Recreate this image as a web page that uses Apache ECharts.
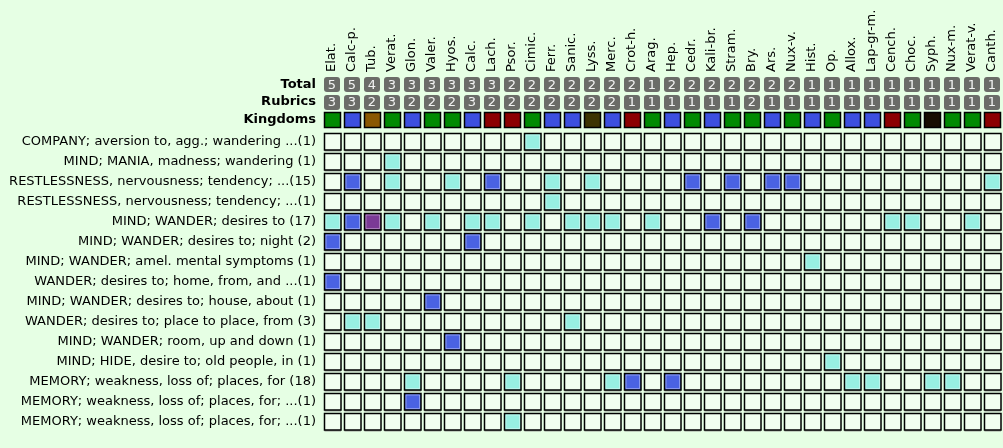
<!DOCTYPE html>
<html>
<head>
<meta charset="utf-8">
<script src="https://cdn.jsdelivr.net/npm/echarts@6/dist/echarts.min.js"></script>
<style>
html, body { margin: 0; padding: 0; background: #e6ffe4; }
#chart { width: 1003px; height: 448px; }
</style>
</head>
<body>
<div id="chart"></div>
<script>
var remedies = ['Elat.', 'Calc-p.', 'Tub.', 'Verat.', 'Glon.', 'Valer.', 'Hyos.', 'Calc.', 'Lach.', 'Psor.',
  'Cimic.', 'Ferr.', 'Sanic.', 'Lyss.', 'Merc.', 'Crot-h.', 'Arag.', 'Hep.', 'Cedr.', 'Kali-br.',
  'Stram.', 'Bry.', 'Ars.', 'Nux-v.', 'Hist.', 'Op.', 'Allox.', 'Lap-gr-m.', 'Cench.', 'Choc.',
  'Syph.', 'Nux-m.', 'Verat-v.', 'Canth.'];
var totals = [5, 5, 4, 3, 3, 3, 3, 3, 3, 2, 2, 2, 2, 2, 2, 2, 1, 2, 2, 2, 2, 2, 2, 2, 1, 1, 1, 1, 1, 1, 1, 1, 1, 1];
var rubricCounts = [3, 3, 2, 3, 2, 2, 2, 3, 2, 2, 2, 2, 2, 2, 2, 1, 1, 1, 1, 1, 1, 2, 1, 1, 1, 1, 1, 1, 1, 1, 1, 1, 1, 1];
var kingdoms = ['plant', 'mineral', 'nosode', 'plant', 'mineral', 'plant', 'plant', 'mineral', 'animal', 'animal',
  'plant', 'mineral', 'mineral', 'nosode2', 'mineral', 'animal', 'plant', 'mineral', 'plant', 'mineral',
  'plant', 'plant', 'mineral', 'plant', 'mineral', 'plant', 'mineral', 'mineral', 'animal', 'plant',
  'nosode3', 'plant', 'plant', 'animal'];
var kingdomColors = {
  plant: '#008a00', mineral: '#3d4fde', animal: '#8c0000',
  nosode: '#8a5800', nosode2: '#3d3300', nosode3: '#170d00'
};
var headerRows = ['Total', 'Rubrics', 'Kingdoms'];
var rubrics = [
  'COMPANY; aversion to, agg.; wandering ...(1)',
  'MIND; MANIA, madness; wandering (1)',
  'RESTLESSNESS, nervousness; tendency; ...(15)',
  'RESTLESSNESS, nervousness; tendency; ...(1)',
  'MIND; WANDER; desires to (17)',
  'MIND; WANDER; desires to; night (2)',
  'MIND; WANDER; amel. mental symptoms (1)',
  'WANDER; desires to; home, from, and ...(1)',
  'MIND; WANDER; desires to; house, about (1)',
  'WANDER; desires to; place to place, from (3)',
  'MIND; WANDER; room, up and down (1)',
  'MIND; HIDE, desire to; old people, in (1)',
  'MEMORY; weakness, loss of; places, for (18)',
  'MEMORY; weakness, loss of; places, for; ...(1)',
  'MEMORY; weakness, loss of; places, for; ...(1)'
];
// grade of each remedy in each rubric, 0 = absent
var grades = [
  [0,0,0,0,0,0,0,0,0,0, 1,0,0,0,0,0,0,0,0,0, 0,0,0,0,0,0,0,0,0,0, 0,0,0,0],
  [0,0,0,1,0,0,0,0,0,0, 0,0,0,0,0,0,0,0,0,0, 0,0,0,0,0,0,0,0,0,0, 0,0,0,0],
  [0,2,0,1,0,0,1,0,2,0, 0,1,0,1,0,0,0,0,2,0, 2,0,2,2,0,0,0,0,0,0, 0,0,0,1],
  [0,0,0,0,0,0,0,0,0,0, 0,1,0,0,0,0,0,0,0,0, 0,0,0,0,0,0,0,0,0,0, 0,0,0,0],
  [1,2,3,1,0,1,0,1,1,0, 1,0,1,1,1,0,1,0,0,2, 0,2,0,0,0,0,0,0,1,1, 0,0,1,0],
  [2,0,0,0,0,0,0,2,0,0, 0,0,0,0,0,0,0,0,0,0, 0,0,0,0,0,0,0,0,0,0, 0,0,0,0],
  [0,0,0,0,0,0,0,0,0,0, 0,0,0,0,0,0,0,0,0,0, 0,0,0,0,1,0,0,0,0,0, 0,0,0,0],
  [2,0,0,0,0,0,0,0,0,0, 0,0,0,0,0,0,0,0,0,0, 0,0,0,0,0,0,0,0,0,0, 0,0,0,0],
  [0,0,0,0,0,2,0,0,0,0, 0,0,0,0,0,0,0,0,0,0, 0,0,0,0,0,0,0,0,0,0, 0,0,0,0],
  [0,1,1,0,0,0,0,0,0,0, 0,0,1,0,0,0,0,0,0,0, 0,0,0,0,0,0,0,0,0,0, 0,0,0,0],
  [0,0,0,0,0,0,2,0,0,0, 0,0,0,0,0,0,0,0,0,0, 0,0,0,0,0,0,0,0,0,0, 0,0,0,0],
  [0,0,0,0,0,0,0,0,0,0, 0,0,0,0,0,0,0,0,0,0, 0,0,0,0,0,1,0,0,0,0, 0,0,0,0],
  [0,0,0,0,1,0,0,0,0,1, 0,0,0,0,1,2,0,2,0,0, 0,0,0,0,0,0,1,1,0,0, 1,1,0,0],
  [0,0,0,0,2,0,0,0,0,0, 0,0,0,0,0,0,0,0,0,0, 0,0,0,0,0,0,0,0,0,0, 0,0,0,0],
  [0,0,0,0,0,0,0,0,0,1, 0,0,0,0,0,0,0,0,0,0, 0,0,0,0,0,0,0,0,0,0, 0,0,0,0]
];
var gradeColors = ['#f2fff0', '#97efe2', '#4a62e2', '#7b3a96'];

var FONT = 'DejaVu Sans';

var matrixData = [];
grades.forEach(function (row, r) {
  row.forEach(function (g, c) { matrixData.push([c, r, g]); });
});
var headerData = [];
remedies.forEach(function (name, c) {
  headerData.push([c, 0], [c, 1], [c, 2]);
});

function renderCell(params, api) {
  var p = api.coord([api.value(0), api.value(1)]);
  var g = api.value(2);
  var s = 16.5;
  var x = Math.round(p[0] - s / 2) + 0.5, y = Math.round(p[1] - s / 2) + 0.5;
  var kids = [
    { type: 'rect', shape: { x: x, y: y + 1.5, width: s, height: s }, style: { fill: '#9a9e98' } },
    { type: 'rect', shape: { x: x, y: y, width: s, height: s },
      style: { fill: gradeColors[g], stroke: '#000', lineWidth: 1.5 } }
  ];
  if (g > 0) {
    kids.push({ type: 'rect', shape: { x: x + 1.5, y: y + 1.5, width: s - 3, height: s - 3 },
      style: { fill: 'none', stroke: 'rgba(255,255,255,0.35)', lineWidth: 1 } });
  }
  return { type: 'group', children: kids };
}

function renderHeader(params, api) {
  var c = api.value(0), row = api.value(1);
  var p = api.coord([c, row]);
  var w = 16, h = 15;
  var x = Math.round(p[0] - w / 2), y = Math.round(p[1] - h / 2);
  if (row === 2) {
    return { type: 'rect', shape: { x: x + 0.5, y: y + 0.5, width: w, height: h },
      style: { fill: kingdomColors[kingdoms[c]], stroke: '#000', lineWidth: 1.5 } };
  }
  var val = row === 0 ? totals[c] : rubricCounts[c];
  return { type: 'group', children: [
    { type: 'rect', shape: { x: x, y: y, width: w, height: h, r: 3 }, style: { fill: '#6b6c68' } },
    { type: 'text', style: { text: String(val), x: p[0], y: p[1] + 0.5, align: 'center', verticalAlign: 'middle',
      fill: '#f2f2f2', font: '13px "' + FONT + '"' } }
  ] };
}

var chart = echarts.init(document.getElementById('chart'));
chart.setOption({
  backgroundColor: '#e6ffe4',
  animation: false,
  grid: [
    { left: 322, width: 680, top: 76, height: 52, outerBoundsMode: 'none' },
    { left: 322, width: 680, top: 131.3, height: 300, outerBoundsMode: 'none' }
  ],
  xAxis: [
    { gridIndex: 0, type: 'category', data: remedies, position: 'top',
      axisLine: { show: false }, axisTick: { show: false },
      axisLabel: { interval: 0, rotate: -90, margin: 4, color: '#000', fontFamily: FONT, fontSize: 13 } },
    { gridIndex: 1, type: 'category', data: remedies, show: false }
  ],
  yAxis: [
    { gridIndex: 0, type: 'category', data: headerRows, inverse: true,
      axisLine: { show: false }, axisTick: { show: false }, splitLine: { show: false },
      axisLabel: { interval: 0, margin: 6, color: '#000', fontFamily: FONT, fontSize: 13, fontWeight: 'bold' } },
    { gridIndex: 1, type: 'category', data: rubrics, inverse: true,
      axisLine: { show: false }, axisTick: { show: false }, splitLine: { show: false },
      axisLabel: { interval: 0, margin: 6, color: '#000', fontFamily: FONT, fontSize: 13 } }
  ],
  series: [
    { type: 'custom', xAxisIndex: 0, yAxisIndex: 0, data: headerData, renderItem: renderHeader },
    { type: 'custom', xAxisIndex: 1, yAxisIndex: 1, data: matrixData, renderItem: renderCell }
  ]
});
</script>
</body>
</html>
